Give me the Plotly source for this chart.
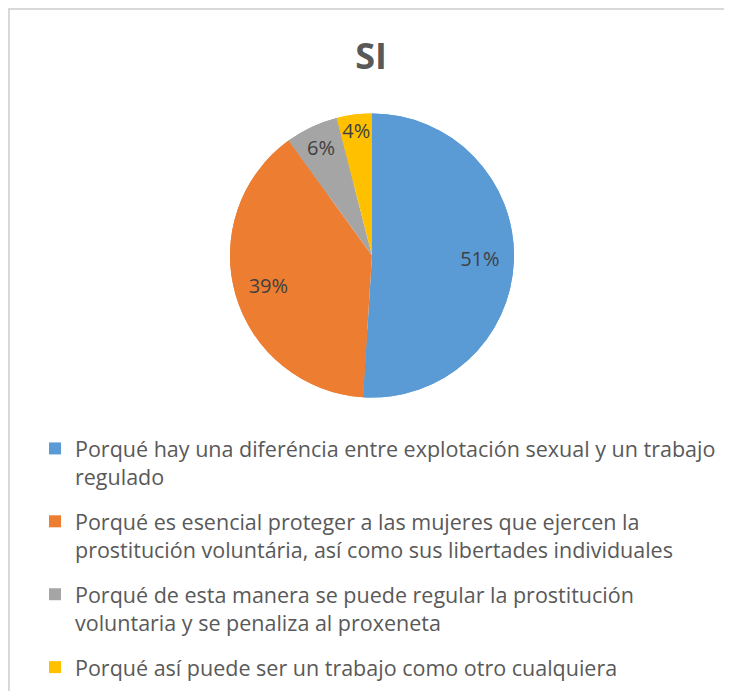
import plotly.graph_objects as go

categories = [
    "Porqué hay una diferéncia entre explotación sexual y un trabajo<br>regulado",
    "Porqué es esencial proteger a las mujeres que ejercen la<br>prostitución voluntária, así como sus libertades individuales",
    "Porqué de esta manera se puede regular la prostitución<br>voluntaria y se penaliza al proxeneta",
    "Porqué así puede ser un trabajo como otro cualquiera",
]
values = [51, 39, 6, 4]
colors = ["#5B9BD5", "#ED7D31", "#A5A5A5", "#FFC000"]

# page body has an 8px margin; figure coordinates below are screen - 8
W, H = 716, 683
cx, cy, r = 364, 247.5, 142
dom = dict(x=[(cx - r) / W, (cx + r) / W], y=[1 - (cy + r) / H, 1 - (cy - r) / H])

common = dict(
    labels=categories,
    values=values,
    sort=False,
    direction="clockwise",
    rotation=0,
    marker=dict(colors=colors, line=dict(width=0)),
    domain=dom,
    hoverinfo="skip",
)

fig = go.Figure()
# invisible spacer entry: enables per-slice legend groups so tracegroupgap applies
fig.add_trace(
    go.Scatter(
        x=[None], y=[None], mode="markers", name=" ", legendgroup="spacer",
        marker=dict(color="rgba(0,0,0,0)", size=1), hoverinfo="skip", legendrank=1,
    )
)
# full pie (slices + legend)
fig.add_trace(go.Pie(textinfo="none", showlegend=True, legendrank=10, **common))
# ring on top carrying the percentage labels near the outer part of each slice
fig.add_trace(
    go.Pie(
        hole=0.52,
        textinfo="percent",
        texttemplate="%{percent:.0%}",
        textposition="inside",
        insidetextorientation="horizontal",
        textfont=dict(family="Open Sans", size=20, color="#404040"),
        showlegend=False,
        **common,
    )
)

fig.update_layout(
    width=W,
    height=H,
    margin=dict(l=0, r=0, t=0, b=0),
    paper_bgcolor="white",
    plot_bgcolor="white",
    xaxis=dict(visible=False),
    yaxis=dict(visible=False),
    title=dict(
        text="<b>SI</b>",
        x=363 / W,
        xanchor="center",
        y=1 - 48 / H,
        yanchor="middle",
        font=dict(family="Open Sans", size=36, color="#595959"),
    ),
    uniformtext=dict(minsize=20, mode="show"),
    legend=dict(
        x=27 / W,
        xanchor="left",
        y=1 - 375 / H,
        yanchor="top",
        valign="top",
        traceorder="grouped",
        tracegroupgap=14,
        font=dict(family="Open Sans", size=21.5, color="#595959"),
        bgcolor="rgba(0,0,0,0)",
    ),
    shapes=[
        dict(type="line", xref="paper", yref="paper", x0=0, x1=1, y0=1 - 1 / H, y1=1 - 1 / H,
             line=dict(color="#D9D9D9", width=2)),
        dict(type="line", xref="paper", yref="paper", x0=1 / W, x1=1 / W, y0=0, y1=1,
             line=dict(color="#D9D9D9", width=2)),
    ],
)

fig.write_html("out.html")
